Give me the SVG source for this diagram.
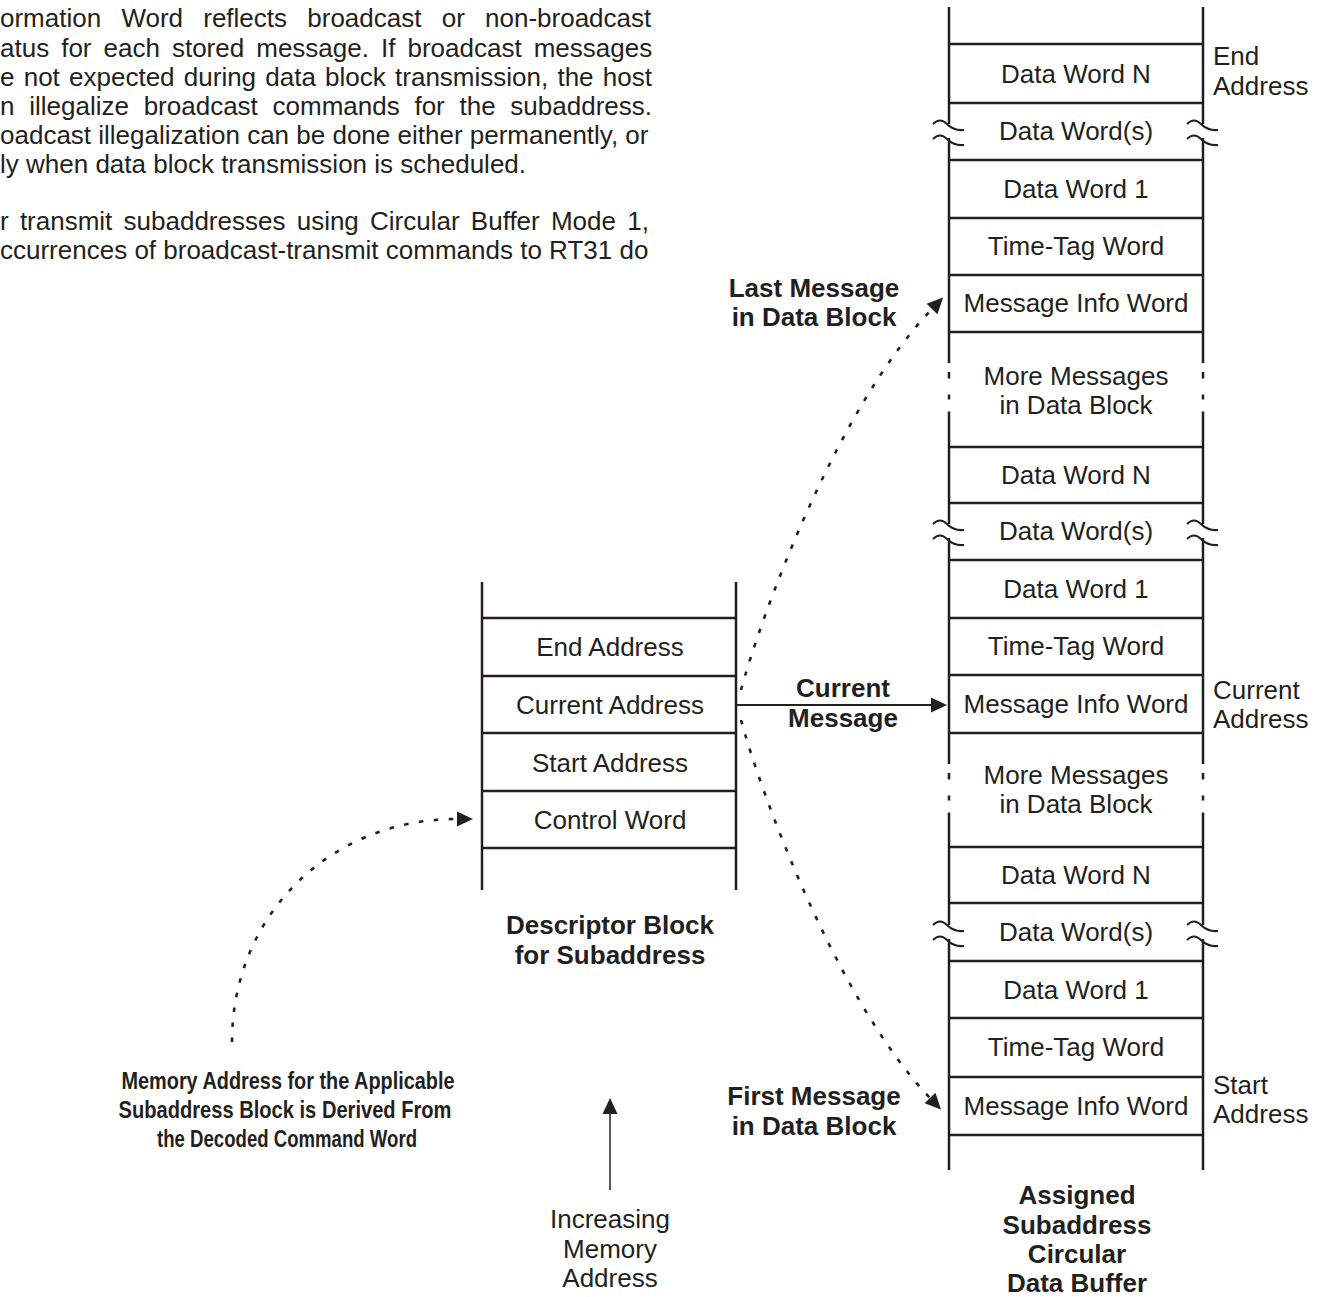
<svg xmlns="http://www.w3.org/2000/svg" width="1322" height="1297" viewBox="0 0 1322 1297">
<style>
text{font-family:"Liberation Sans",Arial,sans-serif;font-size:26px;fill:#231f20}
.c{text-anchor:middle}
.b{font-weight:bold}
.m{font-size:24px}
.ln{stroke:#231f20;stroke-width:2.5;fill:none}
.dot{stroke:#231f20;stroke-width:2.6;fill:none;stroke-dasharray:4.5 10.5}
.arr{stroke:#231f20;stroke-width:2;fill:none}
.sq{stroke:#231f20;stroke-width:2;fill:none}
</style>
<defs>
<marker id="ah" markerUnits="userSpaceOnUse" markerWidth="20" markerHeight="20" viewBox="-2 -10 20 20" refX="0" refY="0" orient="auto" overflow="visible">
<path d="M0,-7.5 L16,0 L0,7.5 z" fill="#231f20" stroke="none"/>
</marker>
<g id="brk">
<rect x="-4" y="-7" width="8" height="14" fill="#fff"/>
<path class="sq" d="M-16,-7 Q-9,-14 -2,-7 T15,-1"/>
<path class="sq" d="M-16,8 Q-9,1 -2,8 T15,14"/>
</g>
</defs>

<g id="paragraph">
<text x="0" y="27" word-spacing="13">ormation Word reflects broadcast or non-broadcast</text>
<text x="0" y="57" word-spacing="4.8">atus for each stored message. If broadcast messages</text>
<text x="0" y="86" word-spacing="2">e not expected during data block transmission, the host</text>
<text x="0" y="115" word-spacing="7.5">n illegalize broadcast commands for the subaddress.</text>
<text x="0" y="144">oadcast illegalization can be done either permanently, or</text>
<text x="0" y="173">ly when data block transmission is scheduled.</text>
<text x="0" y="230" word-spacing="4">r transmit subaddresses using Circular Buffer Mode 1,</text>
<text x="0" y="259">ccurrences of broadcast-transmit commands to RT31 do</text>
</g>

<g id="descriptor-block">
<line class="ln" x1="482" y1="582" x2="482" y2="890"/>
<line class="ln" x1="736" y1="582" x2="736" y2="890"/>
<line class="ln" x1="482" y1="618" x2="736" y2="618"/>
<line class="ln" x1="482" y1="676" x2="736" y2="676"/>
<line class="ln" x1="482" y1="733" x2="736" y2="733"/>
<line class="ln" x1="482" y1="791" x2="736" y2="791"/>
<line class="ln" x1="482" y1="848" x2="736" y2="848"/>
<text class="c" x="610" y="656">End Address</text>
<text class="c" x="610" y="714">Current Address</text>
<text class="c" x="610" y="772">Start Address</text>
<text class="c" x="610" y="829">Control Word</text>
<text class="c b" x="610" y="934">Descriptor Block</text>
<text class="c b" x="610" y="964">for Subaddress</text>
</g>

<g id="buffer">
<line class="ln" x1="949" y1="7" x2="949" y2="332"/>
<line class="ln" x1="1203" y1="7" x2="1203" y2="332"/>
<line class="ln" x1="949" y1="332" x2="949" y2="447" stroke-dasharray="31 9 6.5 16 5 12 100"/>
<line class="ln" x1="1203" y1="332" x2="1203" y2="447" stroke-dasharray="31 9 6.5 16 5 12 100"/>
<line class="ln" x1="949" y1="447" x2="949" y2="733"/>
<line class="ln" x1="1203" y1="447" x2="1203" y2="733"/>
<line class="ln" x1="949" y1="733" x2="949" y2="847" stroke-dasharray="31 9 6.5 16 5 12 100"/>
<line class="ln" x1="1203" y1="733" x2="1203" y2="847" stroke-dasharray="31 9 6.5 16 5 12 100"/>
<line class="ln" x1="949" y1="847" x2="949" y2="1170"/>
<line class="ln" x1="1203" y1="847" x2="1203" y2="1170"/>
<g class="ln">
<line x1="949" y1="44" x2="1203" y2="44"/>
<line x1="949" y1="103" x2="1203" y2="103"/>
<line x1="949" y1="160" x2="1203" y2="160"/>
<line x1="949" y1="218" x2="1203" y2="218"/>
<line x1="949" y1="275" x2="1203" y2="275"/>
<line x1="949" y1="332" x2="1203" y2="332"/>
<line x1="949" y1="447" x2="1203" y2="447"/>
<line x1="949" y1="503" x2="1203" y2="503"/>
<line x1="949" y1="560" x2="1203" y2="560"/>
<line x1="949" y1="618" x2="1203" y2="618"/>
<line x1="949" y1="675" x2="1203" y2="675"/>
<line x1="949" y1="733" x2="1203" y2="733"/>
<line x1="949" y1="847" x2="1203" y2="847"/>
<line x1="949" y1="903" x2="1203" y2="903"/>
<line x1="949" y1="961" x2="1203" y2="961"/>
<line x1="949" y1="1018" x2="1203" y2="1018"/>
<line x1="949" y1="1077" x2="1203" y2="1077"/>
<line x1="949" y1="1135" x2="1203" y2="1135"/>
</g>
<use href="#brk" x="949" y="131"/>
<use href="#brk" x="1203" y="131"/>
<use href="#brk" x="949" y="531"/>
<use href="#brk" x="1203" y="531"/>
<use href="#brk" x="949" y="932"/>
<use href="#brk" x="1203" y="932"/>
<text class="c" x="1076" y="83">Data Word N</text>
<text class="c" x="1076" y="140">Data Word(s)</text>
<text class="c" x="1076" y="198">Data Word 1</text>
<text class="c" x="1076" y="255">Time-Tag Word</text>
<text class="c" x="1076" y="312">Message Info Word</text>
<text class="c" x="1076" y="385">More Messages</text>
<text class="c" x="1076" y="414">in Data Block</text>
<text class="c" x="1076" y="484">Data Word N</text>
<text class="c" x="1076" y="540">Data Word(s)</text>
<text class="c" x="1076" y="598">Data Word 1</text>
<text class="c" x="1076" y="655">Time-Tag Word</text>
<text class="c" x="1076" y="713">Message Info Word</text>
<text class="c" x="1076" y="784">More Messages</text>
<text class="c" x="1076" y="813">in Data Block</text>
<text class="c" x="1076" y="884">Data Word N</text>
<text class="c" x="1076" y="941">Data Word(s)</text>
<text class="c" x="1076" y="999">Data Word 1</text>
<text class="c" x="1076" y="1056">Time-Tag Word</text>
<text class="c" x="1076" y="1115">Message Info Word</text>
<text x="1213" y="65">End</text>
<text x="1213" y="95">Address</text>
<text x="1213" y="699">Current</text>
<text x="1213" y="728">Address</text>
<text x="1213" y="1094">Start</text>
<text x="1213" y="1123">Address</text>
<text class="c b" x="1077" y="1204">Assigned</text>
<text class="c b" x="1077" y="1234">Subaddress</text>
<text class="c b" x="1077" y="1263">Circular</text>
<text class="c b" x="1077" y="1292">Data Buffer</text>
</g>

<g id="connectors">
<line class="arr" x1="737" y1="705" x2="931" y2="705" marker-end="url(#ah)"/>
<path class="dot" d="M741,690 C760,620 835,410 932,309" marker-end="url(#ah)"/>
<path class="dot" d="M741,720 C760,790 835,998 930,1098" marker-end="url(#ah)"/>
<path class="dot" d="M232,1042 C232,915 330,819 457,819" marker-end="url(#ah)"/>
<line x1="610" y1="1190" x2="610" y2="1114" stroke="#231f20" stroke-width="1.5" marker-end="url(#ah)"/>
</g>

<g id="labels">
<text class="c b" x="814" y="297">Last Message</text>
<text class="c b" x="814" y="326">in Data Block</text>
<text class="c b" x="843" y="697">Current</text>
<text class="c b" x="843" y="727">Message</text>
<text class="c b" x="814" y="1105">First Message</text>
<text class="c b" x="814" y="1135">in Data Block</text>
<text class="c b m" x="288" y="1089" textLength="333" lengthAdjust="spacingAndGlyphs">Memory Address for the Applicable</text>
<text class="c b m" x="285" y="1118" textLength="333" lengthAdjust="spacingAndGlyphs">Subaddress Block is Derived From</text>
<text class="c b m" x="287" y="1147" textLength="260" lengthAdjust="spacingAndGlyphs">the Decoded Command Word</text>
<text class="c" x="610" y="1228">Increasing</text>
<text class="c" x="610" y="1258">Memory</text>
<text class="c" x="610" y="1287">Address</text>
</g>
</svg>
